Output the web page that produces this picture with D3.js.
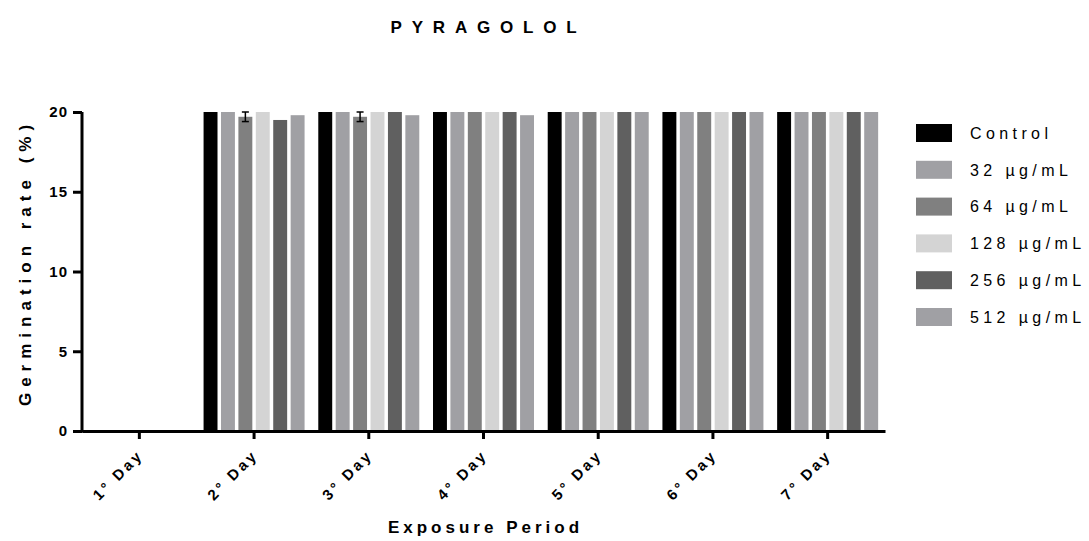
<!DOCTYPE html>
<html>
<head>
<meta charset="utf-8">
<script src="https://cdn.jsdelivr.net/npm/d3@7"></script>
<style>
  body { margin: 0; background: #fff; }
  text { font-family: "Liberation Sans", Arial, sans-serif; }
</style>
</head>
<body>
<script>
var days = ['1° Day', '2° Day', '3° Day', '4° Day', '5° Day', '6° Day', '7° Day'];
var series = ['Control', '32 µg/mL', '64 µg/mL', '128 µg/mL', '256 µg/mL', '512 µg/mL'];
var colors = ['#000000', '#a0a0a4', '#808080', '#d4d4d4', '#606060', '#a0a0a4'];

// germination rate per series, one value per day
var control = [0, 20, 20, 20, 20, 20, 20];
var c32 = [0, 20, 20, 20, 20, 20, 20];
var c64 = [0, 19.7, 19.7, 20, 20, 20, 20];
var c128 = [0, 20, 20, 20, 20, 20, 20];
var c256 = [0, 19.5, 20, 20, 20, 20, 20];
var c512 = [0, 19.8, 19.8, 19.8, 20, 20, 20];
// error (SD) for the 64 µg/mL series
var err64 = [0, 0.3, 0.3, 0, 0, 0, 0];

var values = [control, c32, c64, c128, c256, c512];
var errors = [null, null, err64, null, null, null];

var yTicks = [0, 5, 10, 15, 20];

var width = 1089, height = 541;
var margin = {top: 112, right: 204, bottom: 110, left: 82};

var svg = d3.select('body').append('svg')
            .attr('width', width)
            .attr('height', height);

var x = d3.scaleBand().domain(days).range([margin.left, width - margin.right]);
var x1 = d3.scaleBand().domain(series).range([-50.5, 50.5]).paddingInner(0.2);
var y = d3.scaleLinear().domain([0, 20]).range([height - margin.bottom, margin.top]);
var midX = (margin.left + width - margin.right) / 2;

// bars
var rows = [];
days.forEach(function(d, i) {
  series.forEach(function(s, j) {
    rows.push({day: d, s: s, j: j, v: values[j][i], e: errors[j] ? errors[j][i] : 0});
  });
});

svg.append('g').selectAll('rect').data(rows.filter(r => r.v > 0))
   .enter().append('rect')
     .attr('x', d => x(d.day) + x.bandwidth() / 2 + x1(d.s))
     .attr('width', x1.bandwidth())
     .attr('y', d => y(d.v))
     .attr('height', d => y(0) - y(d.v))
     .attr('fill', d => colors[d.j]);

// error bars
var eb = svg.append('g').selectAll('g').data(rows.filter(r => r.e > 0))
            .enter().append('g')
              .attr('transform', d => `translate(${x(d.day) + x.bandwidth() / 2 + x1(d.s) + x1.bandwidth() / 2},0)`);
eb.append('line')
  .attr('y1', d => y(d.v - d.e)).attr('y2', d => y(d.v + d.e))
  .attr('stroke', '#000').attr('stroke-width', 1.5);
eb.append('line').attr('x1', -3.5).attr('x2', 3.5)
  .attr('y1', d => y(d.v + d.e)).attr('y2', d => y(d.v + d.e))
  .attr('stroke', '#000').attr('stroke-width', 1.5);
eb.append('line').attr('x1', -3.5).attr('x2', 3.5)
  .attr('y1', d => y(d.v - d.e)).attr('y2', d => y(d.v - d.e))
  .attr('stroke', '#000').attr('stroke-width', 1.5);

// axes
var yAxis = svg.append('g')
  .attr('transform', `translate(${margin.left},0)`)
  .call(d3.axisLeft(y).tickValues(yTicks).tickSize(9).tickPadding(5));

var xAxis = svg.append('g')
  .attr('transform', `translate(0,${y(0)})`)
  .call(d3.axisBottom(x).tickSize(8).tickSizeOuter(0));

[yAxis, xAxis].forEach(function(a) {
  a.selectAll('path, line').attr('stroke', '#000').attr('stroke-width', 3);
  a.selectAll('text').attr('fill', '#000')
   .style('font-size', '15px').style('font-weight', 'bold').style('letter-spacing', '1px');
});
yAxis.select('.domain').attr('d', `M0,${y(0) + 1.5}V${y(20)}`);

xAxis.selectAll('text')
  .attr('text-anchor', 'end')
  .attr('dy', null)
  .attr('y', 0)
  .attr('transform', 'translate(5,25) rotate(-45)')
  .style('letter-spacing', '3px');

// titles
svg.append('text')
   .attr('x', midX + 5).attr('y', 33)
   .attr('text-anchor', 'middle')
   .style('font-size', '17px').style('font-weight', 'bold').style('letter-spacing', '9.8px')
   .text('PYRAGOLOL');

svg.append('text')
   .attr('x', midX + 2).attr('y', 533)
   .attr('text-anchor', 'middle')
   .style('font-size', '17px').style('font-weight', 'bold').style('letter-spacing', '4px')
   .text('Exposure Period');

svg.append('text')
   .attr('transform', `translate(31,${(y(0) + y(20)) / 2 - 9}) rotate(-90)`)
   .attr('text-anchor', 'middle')
   .style('font-size', '17px').style('font-weight', 'bold').style('letter-spacing', '6px')
   .text('Germination rate (%)');

// legend
var legend = svg.append('g').selectAll('g').data(series)
  .enter().append('g')
    .attr('transform', (d, i) => `translate(916,${133 + i * 36.8})`);
legend.append('rect')
  .attr('x', 0).attr('y', -9).attr('width', 36).attr('height', 18)
  .attr('fill', (d, i) => colors[i]);
legend.append('text')
  .attr('x', 54).attr('y', 0).attr('dy', '0.36em')
  .style('font-size', '16px').style('letter-spacing', '4.4px')
  .text(d => d);
</script>
</body>
</html>
